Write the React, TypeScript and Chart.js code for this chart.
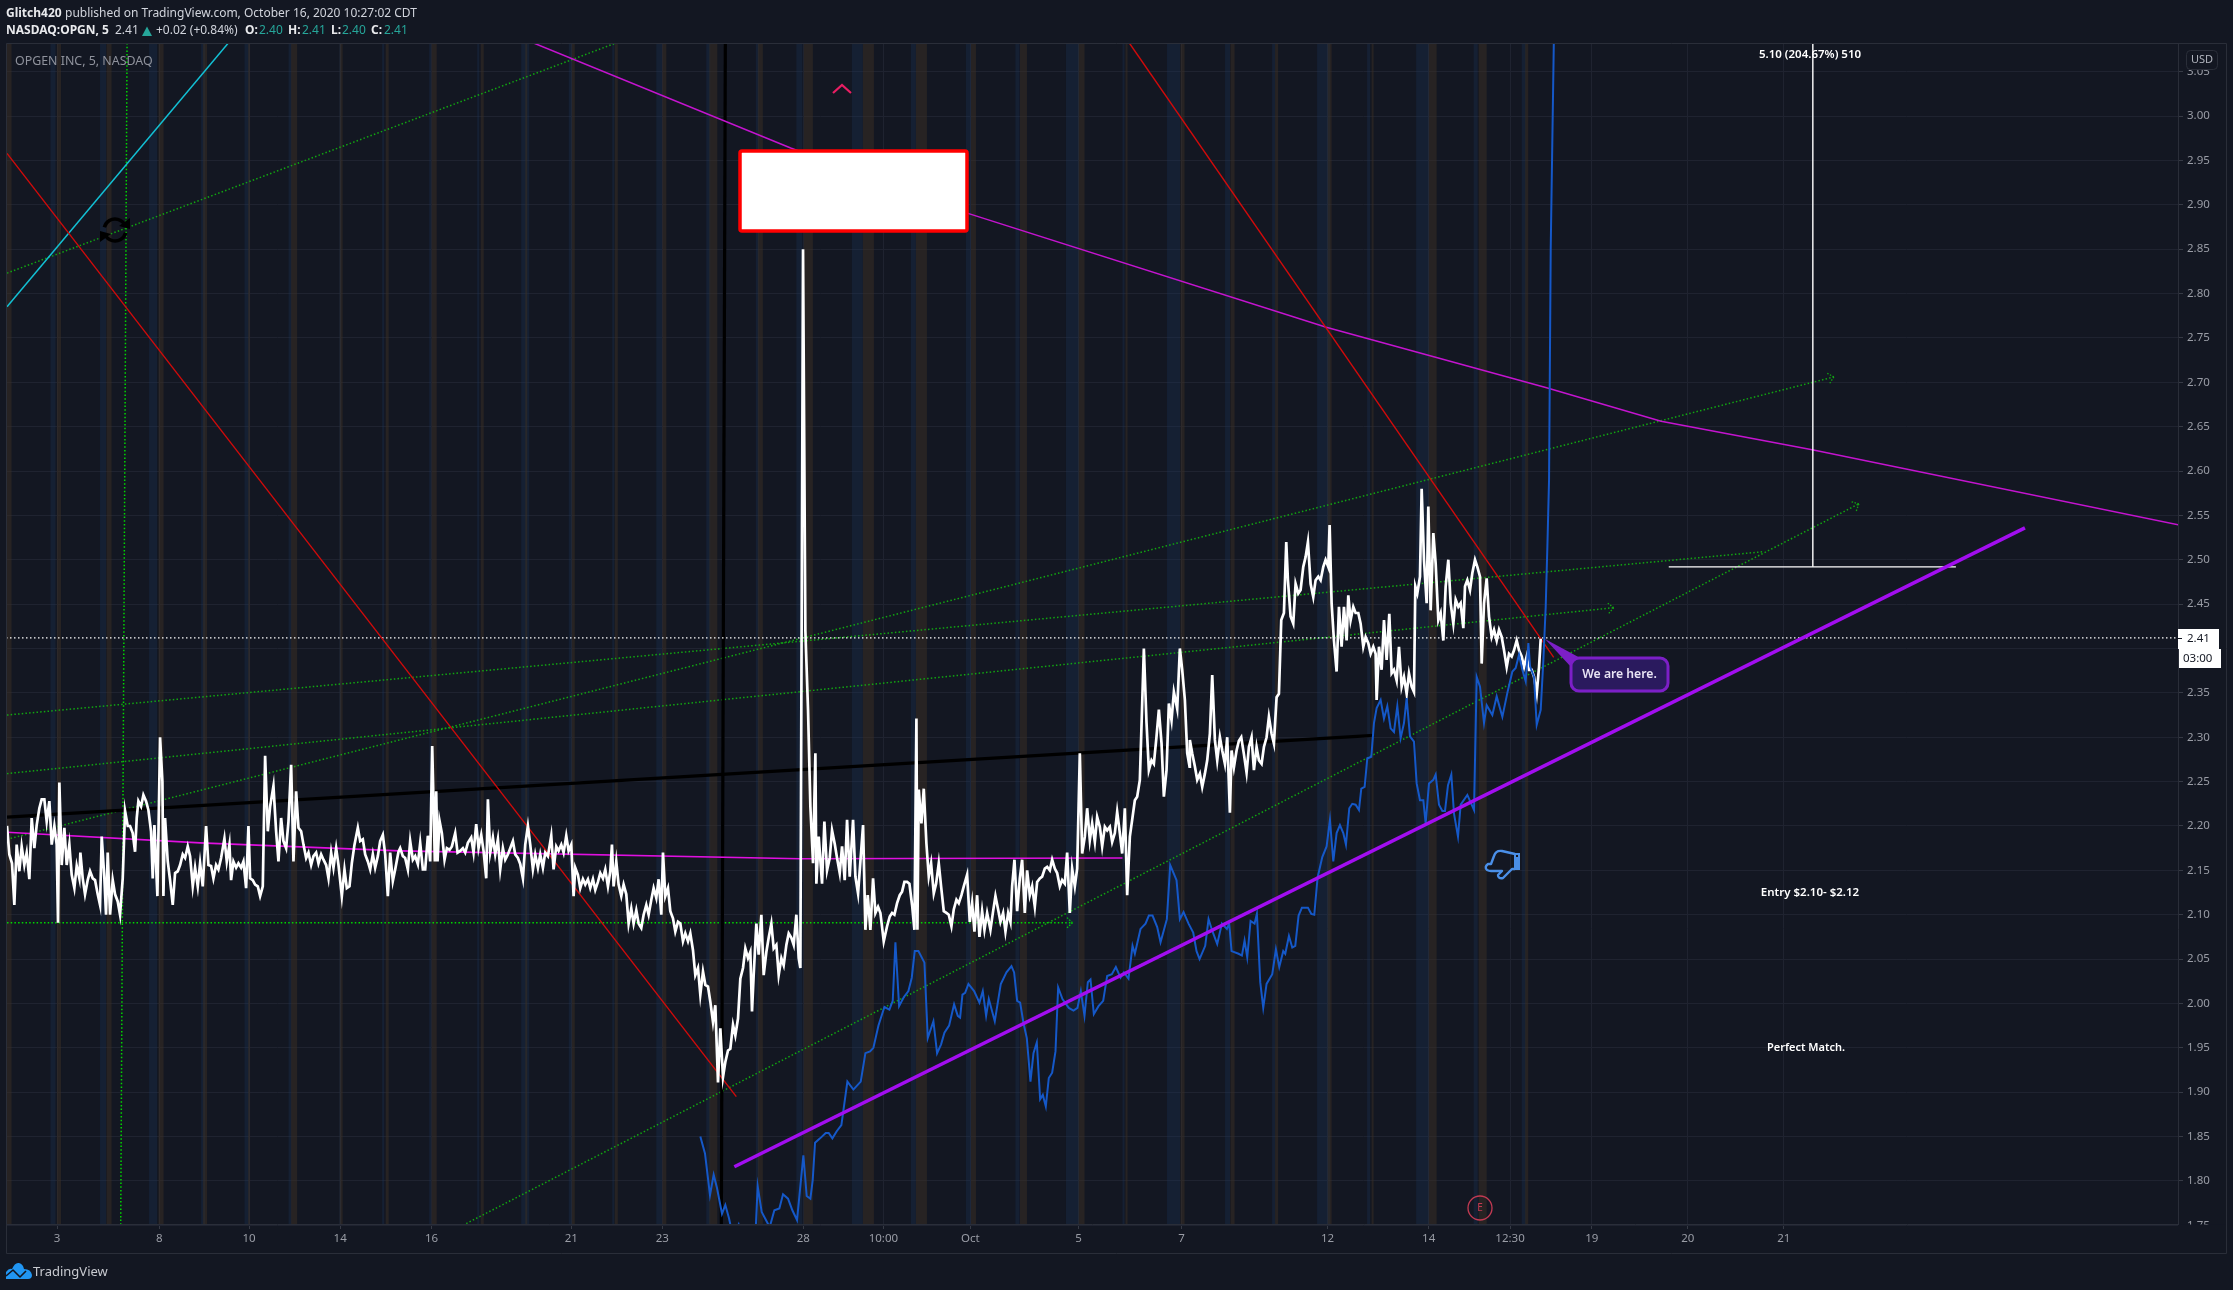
import React, { useEffect, useRef } from "react";
import { Chart, registerables } from "chart.js";

Chart.register(...registerables);

const FONT = '"Noto Sans", sans-serif';
const BG = "#131722";

// Price axis and time axis labels
const priceTicks = [1.75, 1.8, 1.85, 1.9, 1.95, 2.0, 2.05, 2.1, 2.15, 2.2, 2.25, 2.3, 2.35, 2.4, 2.45, 2.5, 2.55, 2.6, 2.65, 2.7, 2.75, 2.8, 2.85, 2.9, 2.95, 3.0, 3.05];
const timeTickBars = [171, 478, 747, 1020, 1294, 1713, 1986, 2409, 2649, 2910, 3234, 3543, 3981, 4284, 4528, 4773, 5061, 5349];
const timeTickLabels = ["3", "8", "10", "14", "16", "21", "23", "28", "10:00", "Oct", "5", "7", "12", "14", "12:30", "19", "20", "21"];

// Session shading: [centre bar, width in bars]
const afterHoursSessions = [[27, 15], [177, 12], [327, 15], [483, 15], [615, 12], [747, 6], [882, 18], [1023, 9], [1161, 9], [1302, 15], [1446, 9], [1578, 6], [1719, 9], [1848, 9], [1992, 12], [2139, 24], [2280, 15], [2424, 27], [2604, 33], [2763, 33], [2919, 15], [3069, 21], [3243, 18], [3378, 6], [3546, 12], [3696, 12], [3828, 9], [3987, 12], [4116, 6], [4296, 24], [4446, 24], [4578, 9]];
const preMarketSessions = [[159, 15], [309, 18], [459, 24], [609, 12], [741, 15], [870, 9], [1020, 6], [1149, 6], [1290, 6], [1434, 6], [1575, 24], [1710, 9], [1839, 6], [1977, 18], [2124, 12], [2271, 9], [2397, 18], [2571, 33], [2739, 15], [2904, 15], [3051, 12], [3216, 39], [3369, 6], [3519, 39], [3681, 15], [3819, 9], [3969, 39], [4104, 9], [4266, 39], [4425, 12], [4569, 12]];

// Close, as [bar, price] pairs, one list per stretch of the chart
const closeFirstBar = [0, 1200, 2370, 3450];
const closeSepEarly = [21,2.2,28,2.168,36,2.158,43,2.111,50,2.179,58,2.149,65,2.177,73,2.156,80,2.17,88,2.14,95,2.209,103,2.175,110,2.201,118,2.22,125,2.23,133,2.23,140,2.205,148,2.228,155,2.179,163,2.2,170,2.179,174,2.091,178,2.249,185,2.156,193,2.198,200,2.156,208,2.179,215,2.145,223,2.13,230,2.155,238,2.141,241,2.17,248,2.141,255,2.123,263,2.139,270,2.149,278,2.141,285,2.139,293,2.123,300,2.111,305,2.188,313,2.141,318,2.1,323,2.17,330,2.1,338,2.139,345,2.123,353,2.115,360,2.1,368,2.141,375,2.217,383,2.2,390,2.2,398,2.192,405,2.171,410,2.209,415,2.228,423,2.222,430,2.235,438,2.228,445,2.218,453,2.194,458,2.141,463,2.201,472,2.121,480,2.3,487,2.25,490,2.121,495,2.209,503,2.16,510,2.139,518,2.111,525,2.147,533,2.149,540,2.156,548,2.168,555,2.164,563,2.177,570,2.166,578,2.132,585,2.153,593,2.132,600,2.158,608,2.132,618,2.2,625,2.156,633,2.155,640,2.141,648,2.156,655,2.151,663,2.164,673,2.186,680,2.16,688,2.179,693,2.139,700,2.16,708,2.153,715,2.158,723,2.153,730,2.16,738,2.13,745,2.2,750,2.141,758,2.139,765,2.134,773,2.132,780,2.121,788,2.132,795,2.279,803,2.194,810,2.222,820,2.245,828,2.194,835,2.16,843,2.209,850,2.183,858,2.175,865,2.205,873,2.269,880,2.16,888,2.239,895,2.198,903,2.194,910,2.179,918,2.164,925,2.17,933,2.156,940,2.166,948,2.17,955,2.158,963,2.168,970,2.162,978,2.156,985,2.141,993,2.17,1000,2.153,1008,2.175,1015,2.156,1025,2.121,1033,2.151,1040,2.13,1048,2.132,1055,2.158,1063,2.179,1073,2.198,1080,2.183,1088,2.185,1095,2.168,1103,2.16,1110,2.151,1118,2.168,1125,2.153,1133,2.166,1140,2.183,1148,2.19,1155,2.168,1163,2.121,1170,2.17,1178,2.138,1185,2.151,1195,2.171];
const closeSepLate = [0,2.175,8,2.166,15,2.164,23,2.151,30,2.183,38,2.162,45,2.166,53,2.157,60,2.181,68,2.151,75,2.151,83,2.189,90,2.16,96,2.29,104,2.16,108,2.239,112,2.16,118,2.206,125,2.192,133,2.162,140,2.175,148,2.173,155,2.177,165,2.192,172,2.17,180,2.172,188,2.175,195,2.17,203,2.181,213,2.187,220,2.17,228,2.202,235,2.175,243,2.19,250,2.172,258,2.141,263,2.23,270,2.17,278,2.187,285,2.168,293,2.185,300,2.151,308,2.175,315,2.162,323,2.168,330,2.175,338,2.183,345,2.168,353,2.164,360,2.157,368,2.141,375,2.179,383,2.2,390,2.179,398,2.151,405,2.168,413,2.153,420,2.168,428,2.153,435,2.17,443,2.166,453,2.189,460,2.151,468,2.177,475,2.172,483,2.179,490,2.17,498,2.189,505,2.172,513,2.179,520,2.121,525,2.153,533,2.145,540,2.13,548,2.14,555,2.134,563,2.14,570,2.13,578,2.14,585,2.128,593,2.137,600,2.147,608,2.141,615,2.151,623,2.132,630,2.149,635,2.179,640,2.132,648,2.16,655,2.134,663,2.121,670,2.134,678,2.123,685,2.09,693,2.107,700,2.09,708,2.105,715,2.09,723,2.085,730,2.1,738,2.111,745,2.1,753,2.117,760,2.13,768,2.119,775,2.14,783,2.1,788,2.17,795,2.121,803,2.13,810,2.104,818,2.096,825,2.081,833,2.092,840,2.09,848,2.07,855,2.079,863,2.07,870,2.079,878,2.06,885,2.032,893,2.04,900,2.01,908,2.036,915,2.021,923,2.019,930,2.002,938,1.979,945,1.998,953,1.911,960,1.972,968,1.917,975,1.934,983,1.947,990,1.949,998,1.976,1005,1.964,1013,1.983,1020,2.028,1028,2.04,1035,2.062,1043,2.051,1050,2.058,1055,1.991,1060,2.032,1068,2.09,1075,2.055,1083,2.1,1090,2.032,1098,2.058,1105,2.074,1113,2.09,1120,2.062,1128,2.066,1135,2.032,1143,2.051,1150,2.043,1158,2.066,1165,2.079,1173,2.074,1180,2.066,1188,2.1,1195,2.051];
const closeOct = [30,2.04,38,2.85,45,2.42,53,2.331,60,2.222,68,2.158,75,2.282,78,2.135,85,2.188,95,2.135,102,2.205,110,2.15,118,2.164,125,2.195,133,2.18,140,2.164,148,2.147,155,2.177,163,2.139,170,2.207,178,2.143,188,2.207,195,2.143,203,2.124,218,2.201,225,2.083,232,2.122,240,2.083,248,2.141,255,2.102,263,2.109,270,2.102,280,2.07,290,2.087,298,2.098,305,2.102,312,2.1,320,2.113,328,2.122,335,2.126,342,2.137,350,2.137,357,2.135,365,2.111,372,2.083,378,2.321,381,2.083,385,2.241,393,2.203,400,2.242,408,2.18,415,2.143,422,2.158,430,2.124,437,2.135,445,2.158,452,2.132,460,2.104,468,2.102,475,2.1,483,2.087,490,2.106,498,2.117,505,2.113,513,2.122,520,2.132,530,2.145,538,2.092,545,2.113,552,2.081,560,2.122,567,2.075,575,2.104,582,2.083,590,2.102,600,2.083,608,2.104,615,2.121,623,2.106,630,2.092,638,2.102,645,2.081,653,2.102,660,2.092,665,2.132,672,2.162,680,2.104,688,2.141,695,2.162,703,2.102,710,2.15,718,2.122,725,2.132,733,2.109,740,2.137,748,2.141,755,2.143,763,2.152,770,2.154,778,2.15,785,2.162,793,2.152,800,2.147,808,2.132,815,2.139,823,2.135,830,2.17,838,2.102,845,2.152,853,2.132,860,2.152,868,2.282,875,2.169,883,2.188,890,2.22,898,2.184,905,2.203,913,2.182,920,2.21,928,2.199,935,2.177,943,2.199,950,2.195,958,2.199,965,2.182,973,2.192,980,2.216,988,2.192,995,2.169,1003,2.22,1010,2.122,1018,2.188,1025,2.207,1033,2.229,1040,2.233,1048,2.252,1055,2.338,1060,2.4,1068,2.316,1075,2.263,1083,2.274,1090,2.27,1098,2.301,1105,2.331,1113,2.293,1120,2.233,1128,2.263,1135,2.338,1143,2.319,1150,2.351,1160,2.332,1168,2.4,1175,2.376,1183,2.342,1190,2.282,1197,2.267];
const closeLate = [118,2.297,125,2.282,133,2.267,140,2.252,148,2.259,155,2.244,163,2.259,170,2.274,178,2.304,185,2.37,193,2.297,200,2.274,208,2.3,215,2.285,223,2.27,230,2.3,238,2.215,243,2.285,250,2.266,258,2.285,265,2.296,272,2.3,280,2.281,288,2.26,295,2.289,303,2.3,310,2.263,318,2.289,325,2.274,333,2.27,340,2.289,348,2.3,355,2.323,363,2.304,370,2.293,378,2.345,385,2.349,392,2.432,400,2.44,407,2.52,412,2.477,420,2.436,428,2.428,435,2.473,443,2.462,450,2.466,458,2.492,465,2.503,472,2.52,480,2.473,488,2.458,495,2.477,503,2.481,510,2.477,518,2.492,525,2.5,533,2.492,537,2.539,543,2.451,550,2.409,558,2.374,565,2.447,573,2.402,580,2.447,588,2.409,593,2.46,600,2.432,608,2.447,615,2.44,623,2.44,630,2.428,638,2.402,645,2.413,653,2.406,660,2.394,668,2.402,675,2.394,678,2.342,685,2.402,693,2.376,700,2.432,708,2.387,716,2.439,723,2.372,730,2.376,738,2.364,745,2.402,753,2.357,760,2.368,768,2.349,775,2.372,783,2.357,790,2.351,794,2.47,800,2.462,808,2.481,813,2.58,820,2.5,828,2.451,833,2.56,840,2.443,848,2.53,855,2.496,863,2.432,870,2.44,878,2.409,885,2.47,893,2.5,900,2.451,908,2.428,915,2.455,923,2.447,930,2.451,938,2.423,943,2.47,950,2.477,958,2.466,965,2.485,973,2.5,980,2.492,988,2.481,993,2.383,1000,2.451,1008,2.479,1015,2.436,1023,2.413,1030,2.421,1038,2.409,1045,2.421,1053,2.413,1060,2.398,1068,2.379,1075,2.394,1083,2.391,1090,2.398,1098,2.409,1105,2.398,1113,2.391,1120,2.379,1128,2.391,1135,2.376,1143,2.376,1150,2.368,1158,2.349,1165,2.379,1170,2.411];

// Overlaid comparison series, [bar, price] pairs
const fractalEarly = [2100,1.85,2114,1.831,2129,1.784,2140,1.807,2150,1.792,2165,1.763,2175,1.773,2186,1.758,2198,1.737,2208,1.745,2215,1.751,2229,1.733,2244,1.733,2265,1.737,2272,1.794,2284,1.765,2294,1.758,2308,1.748,2322,1.767,2337,1.769,2348,1.785,2363,1.78,2376,1.767,2390,1.756,2409,1.829,2419,1.783,2430,1.78,2437,1.801,2444,1.843,2459,1.848,2476,1.854,2485,1.854,2496,1.848,2509,1.856,2523,1.863,2541,1.912,2559,1.903,2581,1.912,2595,1.944,2609,1.946,2619,1.95,2634,1.975,2652,1.996,2667,1.993,2677,2.003,2685,2.069,2696,1.997,2710,2.007,2724,2.014,2734,2.029,2743,2.059,2754,2.059,2772,2.046,2782,1.961,2799,1.98,2810,1.944,2822,1.954,2832,1.967,2846,1.975,2861,1.999,2872,1.986,2879,1.984,2886,2.01,2894,2.012,2904,2.022,2921,2.014,2937,2.001,2947,2.014,2957,1.986,2965,2.005,2983,1.98,3001,2.022,3018,2.035,3033,2.042,3041,2.035,3050,2.003,3059,2.001,3069,1.978,3079,1.961,3090,1.912,3099,1.944,3109,1.956,3119,1.892,3127,1.897,3136,1.884,3145,1.916,3155,1.922,3165,1.946,3173,2.018,3186,2.005,3205,1.995,3219,1.992,3231,1.995,3241,2.014,3252,1.986,3262,2.024,3270,2.027,3280,1.988,3294,1.997,3308,2.003,3320,2.031,3334,2.033,3346,2.041,3360,2.029,3370,2.035,3384,2.028,3396,2.065,3403,2.056,3420,2.084,3435,2.09,3445,2.099,3456,2.099,3470,2.086,3480,2.069,3499,2.095,3509,2.156,3528,2.139,3538,2.095,3549,2.103,3564,2.09,3578,2.08,3588,2.059,3597,2.05,3614,2.065,3624,2.095,3635,2.082,3650,2.067,3664,2.09,3679,2.084,3686,2.09,3693,2.059,3714,2.056,3724,2.054,3732,2.071,3740,2.052,3750,2.093,3762,2.09,3769,2.101,3779,2.024,3788,1.995,3798,2.022,3815,2.033,3826,2.061,3836,2.041,3848,2.059,3854,2.056,3865,2.076,3875,2.063,3884,2.065,3894,2.099,3904,2.108,3922,2.108,3932,2.101,3941,2.1,3951,2.142];
const fractalLate = [3965,2.165,3978,2.177,3988,2.207,3998,2.16,4008,2.192,4018,2.201,4028,2.192,4036,2.179,4046,2.22,4055,2.225,4065,2.224,4075,2.218,4082,2.242,4092,2.244,4100,2.276,4112,2.278,4120,2.316,4128,2.333,4140,2.342,4150,2.321,4160,2.335,4170,2.31,4180,2.306,4190,2.335,4200,2.299,4210,2.316,4218,2.344,4228,2.301,4240,2.295,4248,2.248,4258,2.229,4268,2.229,4275,2.203,4285,2.248,4298,2.252,4305,2.258,4315,2.224,4325,2.217,4333,2.217,4342,2.246,4352,2.258,4360,2.214,4372,2.188,4380,2.224,4400,2.235,4420,2.218,4428,2.368,4438,2.357,4450,2.316,4458,2.336,4475,2.325,4488,2.346,4505,2.323,4520,2.35,4535,2.374,4545,2.378,4555,2.393,4565,2.376,4575,2.363,4583,2.406,4588,2.38,4600,2.368,4608,2.314,4620,2.331,4628,2.387,4635,2.447,4640,2.515,4645,2.59,4650,2.85,4660,3.1];

// Drawn trend lines: [bar, price] points
const cyanTrend = [[21, 2.785], [684, 3.082]];
const redTrendLeft = [[21, 2.958], [2208, 1.895]];
const redTrendRight = [[3387, 3.082], [4659, 2.39]];
const magentaFalling = [[1602, 3.082], [2371, 2.964], [2905, 2.89], [3977, 2.762], [4635, 2.694], [4981, 2.656], [5434, 2.624], [6536, 2.539]];
const magentaAverage = [[21, 2.193], [600, 2.181], [1200, 2.172], [2400, 2.163], [3366, 2.164]];
const blackTrend = [[21, 2.21], [4120, 2.302]];
const blackVertical = [[2175, 3.0823], [2163, 1.7515]];
const purpleSupport = [[2202, 1.816], [6072, 2.536]];
const greenA = [[21, 2.823], [1845, 3.082]];
const greenB = [[21, 2.185], [5499, 2.706]];
const greenC = [[21, 2.259], [4839, 2.446]];
const greenD = [[21, 2.325], [5286, 2.509]];
const greenE = [[1398, 1.752], [5574, 2.563]];
const greenLevel = [[21, 2.091], [3216, 2.091]];
const greenVertical = [[381, 3.0823], [362, 1.7515]];
const lastPriceLine = [[18, 2.412], [6531, 2.412]];
const rulerVertical = [[5436, 3.0823], [5436, 2.492]];
const rulerBase = [[5004, 2.492], [5865, 2.492]];

const pairs = (flat: number[], first = 0) => {
  const out: { x: number; y: number }[] = [];
  for (let i = 0; i < flat.length; i += 2) out.push({ x: flat[i] + first, y: flat[i + 1] });
  return out;
};
const pts = (line: number[][]) => line.map(([x, y]) => ({ x, y }));
const line = (data: any[], color: string, width: number, order: number, dash?: number[]) => ({
  data,
  borderColor: color,
  borderWidth: width,
  borderDash: dash || [],
  pointRadius: 0,
  tension: 0,
  order,
  borderJoinStyle: "miter" as const,
});

const drawOverlay = {
  id: "overlay",
  beforeDraw(chart: any) {
    const { ctx } = chart;
    ctx.save();
    ctx.fillStyle = BG;
    ctx.fillRect(0, 0, chart.width, chart.height);
    ctx.restore();
  },
  beforeDatasetsDraw(chart: any) {
    const { ctx, scales, chartArea: a } = chart;
    const bandH = a.bottom - a.top;
    ctx.save();
    const paint = (list: number[][], color: string) => {
      ctx.fillStyle = color;
      for (const [c, w] of list) {
        const l = scales.x.getPixelForValue(c - w / 2);
        const r = scales.x.getPixelForValue(c + w / 2);
        ctx.fillRect(l, a.top, r - l, bandH);
      }
    };
    paint(preMarketSessions, "rgba(26,52,92,0.3)");
    paint(afterHoursSessions, "rgba(60,48,36,0.5)");
    ctx.restore();
  },
  afterDraw(chart: any) {
    const { ctx, scales, chartArea: a } = chart;
    const X = (v: number) => scales.x.getPixelForValue(v);
    const Y = (v: number) => scales.y.getPixelForValue(v);
    ctx.save();

    // arrow heads on the drawn lines
    const head = (ln: number[][], color: string) => {
      const [p, q] = [ln[ln.length - 2], ln[ln.length - 1]];
      const x2 = X(q[0]), y2 = Y(q[1]);
      const ang = Math.atan2(y2 - Y(p[1]), x2 - X(p[0]));
      ctx.strokeStyle = color;
      ctx.lineWidth = 1.3;
      ctx.setLineDash([1.5, 1.5]);
      ctx.beginPath();
      for (const s of [-1, 1]) {
        ctx.moveTo(x2, y2);
        ctx.lineTo(x2 - 9 * Math.cos(ang + s * 0.75), y2 - 9 * Math.sin(ang + s * 0.75));
      }
      ctx.stroke();
      ctx.setLineDash([]);
    };
    head(greenB, "#12a512");
    head(greenC, "#12a512");
    head(greenE, "#12a512");
    head(greenLevel, "#00d000");

    // alert box
    ctx.fillStyle = "#ffffff";
    ctx.strokeStyle = "#ff0000";
    ctx.lineWidth = 3.5;
    ctx.beginPath();
    ctx.roundRect(740, 151, 227, 80, 2);
    ctx.fill();
    ctx.stroke();

    // caret
    ctx.strokeStyle = "#e91e63";
    ctx.lineWidth = 2.2;
    ctx.beginPath();
    ctx.moveTo(833, 93);
    ctx.lineTo(842, 85);
    ctx.lineTo(851, 93);
    ctx.stroke();

    // circular arrows mark
    ctx.strokeStyle = "#000000";
    ctx.fillStyle = "#000000";
    ctx.lineWidth = 3.5;
    const cx = 115, cy = 230, r = 11;
    ctx.beginPath();
    ctx.arc(cx, cy, r, Math.PI * 1.08, Math.PI * 1.85);
    ctx.stroke();
    ctx.beginPath();
    ctx.arc(cx, cy, r, Math.PI * 0.08, Math.PI * 0.85);
    ctx.stroke();
    ctx.beginPath();
    ctx.moveTo(cx + 15, cy - 12); ctx.lineTo(cx + 15, cy - 1); ctx.lineTo(cx + 4, cy - 4); ctx.closePath(); ctx.fill();
    ctx.beginPath();
    ctx.moveTo(cx - 15, cy + 12); ctx.lineTo(cx - 15, cy + 1); ctx.lineTo(cx - 4, cy + 4); ctx.closePath(); ctx.fill();

    // thumb-down mark
    ctx.strokeStyle = "#4a8fe8";
    ctx.fillStyle = "#4a8fe8";
    ctx.lineWidth = 2.4;
    ctx.lineJoin = "round";
    ctx.beginPath();
    ctx.moveTo(1515, 854); ctx.lineTo(1502, 851); ctx.quadraticCurveTo(1496, 850, 1494, 856);
    ctx.lineTo(1491, 864); ctx.lineTo(1488, 864);
    ctx.quadraticCurveTo(1484, 867, 1487, 870); ctx.quadraticCurveTo(1489, 871, 1491, 871);
    ctx.lineTo(1502, 871); ctx.lineTo(1498, 875);
    ctx.quadraticCurveTo(1498, 879, 1503, 878); ctx.lineTo(1512, 869); ctx.lineTo(1515, 869);
    ctx.stroke();
    ctx.fillRect(1514, 853, 6, 17);
    ctx.fillStyle = BG;
    ctx.fillRect(1516, 855, 2, 2);

    // earnings mark
    ctx.strokeStyle = "#c23a52";
    ctx.lineWidth = 1.3;
    ctx.beginPath();
    ctx.arc(1480, 1208, 12, 0, Math.PI * 2);
    ctx.stroke();
    ctx.fillStyle = "#c23a52";
    ctx.font = `10px ${FONT}`;
    ctx.textAlign = "center";
    ctx.textBaseline = "middle";
    ctx.fillText("E", 1480, 1208.5);

    // callout
    ctx.fillStyle = "#7c1fc7";
    ctx.beginPath();
    ctx.moveTo(1545, 639); ctx.lineTo(1584, 660); ctx.lineTo(1572, 668); ctx.closePath();
    ctx.fill();
    ctx.fillStyle = "#2a1a5e";
    ctx.strokeStyle = "#7c1fc7";
    ctx.lineWidth = 3;
    ctx.beginPath();
    ctx.roundRect(1571, 658, 97, 33, 8);
    ctx.fill();
    ctx.stroke();
    ctx.fillStyle = "#e8e4f4";
    ctx.font = `600 12.2px ${FONT}`;
    ctx.fillText("We are here.", 1619.5, 674.5);

    // chart notes
    ctx.fillStyle = "#ffffff";
    ctx.font = `600 11.5px ${FONT}`;
    ctx.fillText("5.10 (204.67%) 510", 1810, 55);
    ctx.fillText("Entry $2.10- $2.12", 1810, 893);
    ctx.font = `600 11px ${FONT}`;
    ctx.fillText("Perfect Match.", 1806, 1048);

    // tidy the axis corner, USD and last-price tags
    ctx.fillStyle = BG;
    ctx.fillRect(2179, 1224.5, 47, 29);
    ctx.strokeStyle = "#2a2e39";
    ctx.lineWidth = 1;
    ctx.strokeRect(6.5, 43.5, 2220, 1210);

    ctx.fillStyle = BG;
    ctx.beginPath();
    ctx.roundRect(2186.5, 50.5, 31, 19, 4);
    ctx.fill();
    ctx.stroke();
    ctx.fillStyle = "#b2b5be";
    ctx.font = `11px ${FONT}`;
    ctx.fillText("USD", 2202, 60);

    ctx.fillStyle = "#ffffff";
    ctx.fillRect(2178, 629, 41, 20);
    ctx.fillRect(2179, 649, 42, 19);
    ctx.fillStyle = BG;
    ctx.fillRect(2178, 638, 4, 1);
    ctx.textAlign = "left";
    ctx.font = `11.5px ${FONT}`;
    ctx.fillText("2.41", 2187, 639);
    ctx.fillText("03:00", 2183, 658.5);

    // header
    ctx.textBaseline = "middle";
    const t = (s: string, x: number, y: number, font: string, color: string) => {
      ctx.font = font;
      ctx.fillStyle = color;
      ctx.fillText(s, x, y);
    };
    const B = `bold 12px ${FONT}`, N = `12px ${FONT}`;
    const teal = "#26a69a", white = "#e8e9ec";
    t("Glitch420", 6, 14, B, white);
    t("published on TradingView.com, October 16, 2020 10:27:02 CDT", 65, 14, N, "#d1d4dc");
    t("NASDAQ:OPGN, 5", 6, 31, B, white);
    t("2.41", 115, 31, N, "#d1d4dc");
    ctx.fillStyle = teal;
    ctx.beginPath();
    ctx.moveTo(142, 36); ctx.lineTo(147, 26.5); ctx.lineTo(152, 36); ctx.closePath();
    ctx.fill();
    t("+0.02 (+0.84%)", 156, 31, N, "#d1d4dc");
    t("O:", 245, 31, B, white); t("2.40", 259, 31, N, teal);
    t("H:", 288, 31, B, white); t("2.41", 302, 31, N, teal);
    t("L:", 331, 31, B, white); t("2.40", 342, 31, N, teal);
    t("C:", 371, 31, B, white); t("2.41", 384, 31, N, teal);
    t("OPGEN INC, 5, NASDAQ", 15, 61, `12.4px ${FONT}`, "#8f929c");

    // footer logo
    ctx.fillStyle = "#2196f3";
    ctx.beginPath();
    ctx.moveTo(6, 1279);
    ctx.lineTo(6, 1272);
    ctx.quadraticCurveTo(9, 1268, 12, 1269);
    ctx.quadraticCurveTo(15, 1262, 19, 1263);
    ctx.quadraticCurveTo(23, 1264, 24, 1269);
    ctx.quadraticCurveTo(31, 1269, 32, 1275);
    ctx.quadraticCurveTo(32, 1279, 28, 1279);
    ctx.closePath();
    ctx.fill();
    ctx.strokeStyle = BG;
    ctx.lineWidth = 1.6;
    ctx.beginPath();
    ctx.moveTo(6, 1276); ctx.lineTo(13, 1270); ctx.lineTo(20, 1277); ctx.lineTo(26, 1271);
    ctx.stroke();
    t("TradingView", 33, 1272, `13px ${FONT}`, "#c8cad0");
    ctx.restore();
  },
};

export default function App() {
  const ref = useRef<HTMLCanvasElement>(null);
  useEffect(() => {
    const closeAll = [
      ...pairs(closeSepEarly, closeFirstBar[0]),
      ...pairs(closeSepLate, closeFirstBar[1]),
      ...pairs(closeOct, closeFirstBar[2]),
      ...pairs(closeLate, closeFirstBar[3]),
    ];
    const fractalAll = [...pairs(fractalEarly), ...pairs(fractalLate)];
    const dotted = [1.5, 2.2];
    const dim = "#12a512";
    const chart = new Chart(ref.current as HTMLCanvasElement, {
      type: "line",
      data: {
        datasets: [
          line(pts(purpleSupport), "#a20ef0", 3.6, 1),
          line(fractalAll, "#1558c8", 2, 2),
          line(closeAll, "#ffffff", 2.7, 3),
          line(pts(redTrendRight), "#d00a0a", 1.4, 4),
          line(pts(redTrendLeft), "#d00a0a", 1.4, 4),
          line(pts(lastPriceLine), "#ffffff", 1.2, 4, [1.5, 2.5]),
          line(pts(rulerVertical), "#ffffff", 1.4, 4),
          line(pts(rulerBase), "#ffffff", 1.4, 4),
          line(pts(cyanTrend), "#12c0d4", 1.5, 5),
          line(pts(magentaFalling), "#c414cf", 1.5, 6),
          line(pts(magentaAverage), "#e010e0", 1.6, 6),
          line(pts(blackTrend), "#000000", 3.2, 7),
          line(pts(blackVertical), "#000000", 3.2, 7),
          line(pts(greenA), dim, 1.5, 8, dotted),
          line(pts(greenB), dim, 1.5, 8, dotted),
          line(pts(greenC), dim, 1.5, 8, dotted),
          line(pts(greenD), dim, 1.5, 8, dotted),
          line(pts(greenE), dim, 1.5, 8, dotted),
          line(pts(greenLevel), "#00d800", 1.5, 8, dotted),
          line(pts(greenVertical), "#00d800", 1.5, 8, dotted),
        ],
      },
      options: {
        responsive: false,
        animation: false,
        parsing: false,
        normalized: false,
        layout: { padding: { left: 6, top: 43, right: 6, bottom: 36 } },
        plugins: { legend: { display: false }, tooltip: { enabled: false }, title: { display: false } },
        scales: {
          x: {
            type: "linear",
            min: 18,
            max: 6531,
            afterBuildTicks: (s: any) => {
              s.ticks = timeTickBars.map((value) => ({ value }));
            },
            afterFit: (s: any) => {
              s.height = 30;
            },
            grid: { color: "#1f2330", tickColor: "#363a45", tickLength: 5 },
            border: { color: "#2a2e39" },
            ticks: {
              autoSkip: false,
              maxRotation: 0,
              padding: 3,
              color: "#9a9da6",
              font: { family: FONT, size: 11.5 },
              callback: (v: any) => timeTickLabels[timeTickBars.indexOf(v)] ?? "",
            },
          },
          y: {
            type: "linear",
            position: "right",
            min: 1.7515,
            max: 3.0823,
            afterBuildTicks: (s: any) => {
              s.ticks = priceTicks.map((value) => ({ value }));
            },
            afterFit: (s: any) => {
              s.width = 49;
            },
            grid: { color: "#1f2330", tickColor: "#363a45", tickLength: 5 },
            border: { color: "#2a2e39" },
            ticks: {
              autoSkip: false,
              padding: 4,
              color: "#9a9da6",
              font: { family: FONT, size: 11.5 },
              callback: (v: any) => Number(v).toFixed(2),
            },
          },
        },
      },
      plugins: [drawOverlay],
    } as any);
    return () => chart.destroy();
  }, []);
  return (
    <canvas
      ref={ref}
      width={2233}
      height={1290}
      style={{ position: "fixed", left: 0, top: 0, width: 2233, height: 1290, display: "block", background: BG }}
    />
  );
}
